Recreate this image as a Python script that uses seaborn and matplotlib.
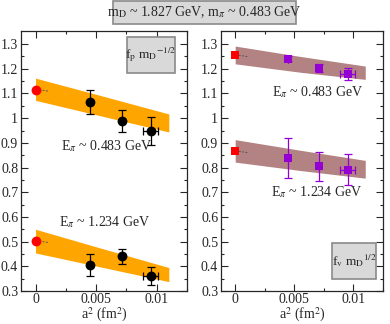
import numpy as np
import pandas as pd
import matplotlib
matplotlib.use("Agg")
import matplotlib.pyplot as plt
from matplotlib.patches import Rectangle
import seaborn as sns

# ---------------- data ----------------
a2 = [0.0045, 0.0071, 0.0095]
a2_err = [0.0, 0.0, 0.0006]

# left panel (f_p m_D^-1/2)
fp_hi = [1.065, 0.990, 0.948]
fp_hi_err = [0.050, 0.045, 0.058]
fp_lo = [0.405, 0.440, 0.360]
fp_lo_err = [0.045, 0.032, 0.036]
fp_hi_cont = 1.115
fp_lo_cont = 0.502

band_x = [0.0, 0.0055, 0.011]
fp_hi_band_up = [1.162, 1.090, 1.017]
fp_hi_band_dn = [1.072, 1.008, 0.944]
fp_lo_band_up = [0.550, 0.472, 0.395]
fp_lo_band_dn = [0.454, 0.396, 0.338]

# right panel (f_v m_D^1/2)
fv_hi = [1.240, 1.203, 1.180]
fv_hi_err = [0.010, 0.015, 0.025]
fv_lo = [0.838, 0.805, 0.792]
fv_lo_err = [0.080, 0.058, 0.062]
fv_hi_cont = 1.255
fv_lo_cont = 0.866

fv_hi_band_up = [1.292, 1.250, 1.211]
fv_hi_band_dn = [1.220, 1.186, 1.157]
fv_lo_band_up = [0.913, 0.870, 0.829]
fv_lo_band_dn = [0.822, 0.788, 0.757]

xticks = [0, 0.005, 0.01]
xtick_labels = ["0", "0.005", "0.01"]
yticks = [0.3, 0.4, 0.5, 0.6, 0.7, 0.8, 0.9, 1.0, 1.1, 1.2, 1.3]
ytick_labels = ["0.3", "0.4", "0.5", "0.6", "0.7", "0.8", "0.9", "1", "1.1", "1.2", "1.3"]

# ---------------- style ----------------
sns.set_style("ticks")
plt.rcParams["font.family"] = ["Liberation Serif", "DejaVu Serif"]
plt.rcParams["mathtext.fontset"] = "stix"
plt.rcParams["font.size"] = 9.5

fig = plt.figure(figsize=(3.9, 3.24), dpi=100)
W, H = 390, 324

def px_axes(x0, y0, x1, y1):
    return fig.add_axes([x0 / W, 1 - y1 / H, (x1 - x0) / W, (y1 - y0) / H])

axL = px_axes(21, 31, 187, 291)
axR = px_axes(221, 31, 383, 291)

ORANGE = "#ffa500"
BROWN = "#b38383"
PURPLE = "#9400d3"

def style_axes(ax):
    ax.set_xlim(-0.0012, 0.0125)
    ax.set_ylim(0.3, 1.353)
    ax.set_xticks(xticks)
    ax.set_xticklabels(xtick_labels)
    ax.set_yticks(yticks)
    ax.set_yticklabels(ytick_labels)
    ax.set_xticks([0.0025, 0.0075, 0.0125], minor=True)
    ax.set_yticks(np.arange(0.35, 1.35, 0.1), minor=True)
    ax.tick_params(which="both", direction="in", top=True, right=True,
                   labelsize=10, pad=2)
    ax.tick_params(axis="x", pad=1.5)
    ax.tick_params(which="major", length=5, width=0.8)
    ax.tick_params(which="minor", length=2.5, width=0.8)
    for s in ax.spines.values():
        s.set_linewidth(0.9)
    ax.set_xlabel("a$^2$ (fm$^2$)", fontsize=10)
    ax.xaxis.set_label_coords(0.5, -0.092)
    ax.xaxis.label.set_va("center")
    ax.set_ylabel("")

def panel(ax, hi, hi_err, lo, lo_err, hi_c, lo_c, bands, band_color,
          marker, mcolor, ecolor, msize):
    for up, dn in bands:
        ax.fill_between(band_x, dn, up, color=band_color, linewidth=0, zorder=1)
    df = pd.DataFrame({"x": a2 + a2, "y": hi + lo})
    ax.errorbar(a2, hi, yerr=hi_err, xerr=a2_err, fmt="none", ecolor=ecolor,
                elinewidth=0.9, capsize=3, capthick=0.9, zorder=2)
    ax.errorbar(a2, lo, yerr=lo_err, xerr=a2_err, fmt="none", ecolor=ecolor,
                elinewidth=0.9, capsize=3, capthick=0.9, zorder=2)
    sns.scatterplot(data=df, x="x", y="y", ax=ax, marker=marker, color=mcolor,
                    s=msize, edgecolor=mcolor, linewidth=0, zorder=3, legend=False)
    dfc = pd.DataFrame({"x": [0.0, 0.0], "y": [hi_c, lo_c]})
    sns.scatterplot(data=dfc, x="x", y="y", ax=ax, marker=marker, color="red",
                    s=msize, edgecolor="red", linewidth=0, zorder=3, legend=False)
    for yc in (hi_c, lo_c):
        ax.plot([0.0003, 0.0011], [yc, yc - 0.006], ls=(0, (2, 1.5)),
                color="#555555", lw=0.7, zorder=2)

panel(axL, fp_hi, fp_hi_err, fp_lo, fp_lo_err, fp_hi_cont, fp_lo_cont,
      [(fp_hi_band_up, fp_hi_band_dn), (fp_lo_band_up, fp_lo_band_dn)],
      ORANGE, "o", "black", "black", 50)
panel(axR, fv_hi, fv_hi_err, fv_lo, fv_lo_err, fv_hi_cont, fv_lo_cont,
      [(fv_hi_band_up, fv_hi_band_dn), (fv_lo_band_up, fv_lo_band_dn)],
      BROWN, "s", PURPLE, PURPLE, 38)

style_axes(axL)
style_axes(axR)

# annotations
axL.text(0.0021, 0.885, r"E$_\pi$ ~ 0.483 GeV", fontsize=10, va="center")
axL.text(0.0019, 0.578, r"E$_\pi$ ~ 1.234 GeV", fontsize=10, va="center")
axR.text(0.0031, 1.105, r"E$_\pi$ ~ 0.483 GeV", fontsize=10, va="center")
axR.text(0.0030, 0.700, r"E$_\pi$ ~ 1.234 GeV", fontsize=10, va="center")

# grey label boxes (pixel geometry)
def px_box(x0, y0, x1, y1, text, fs):
    fig.patches.append(Rectangle((x0 / W, 1 - y1 / H), (x1 - x0) / W, (y1 - y0) / H,
                                 transform=fig.transFigure, facecolor="#d9d9d9",
                                 edgecolor="#8a8a8a", lw=1.2, zorder=5))
    fig.text((x0 + x1) / 2 / W, 1 - (y0 + y1) / 2 / H, text, ha="center",
             va="center", fontsize=fs, zorder=6)

px_box(113, 1, 296, 24, r"m$_\mathrm{D}$ ~ 1.827 GeV, m$_\pi$ ~ 0.483 GeV", 10)
px_box(127, 37, 175, 73, r"f$_\mathrm{p}$ m$_\mathrm{D}$$^{\mathrm{-1/2}}$", 9.5)
px_box(332, 243, 376, 279, r"f$_\mathrm{v}$ m$_\mathrm{D}$$^{\mathrm{1/2}}$", 9.5)

fig.savefig("out.png", dpi=100)
